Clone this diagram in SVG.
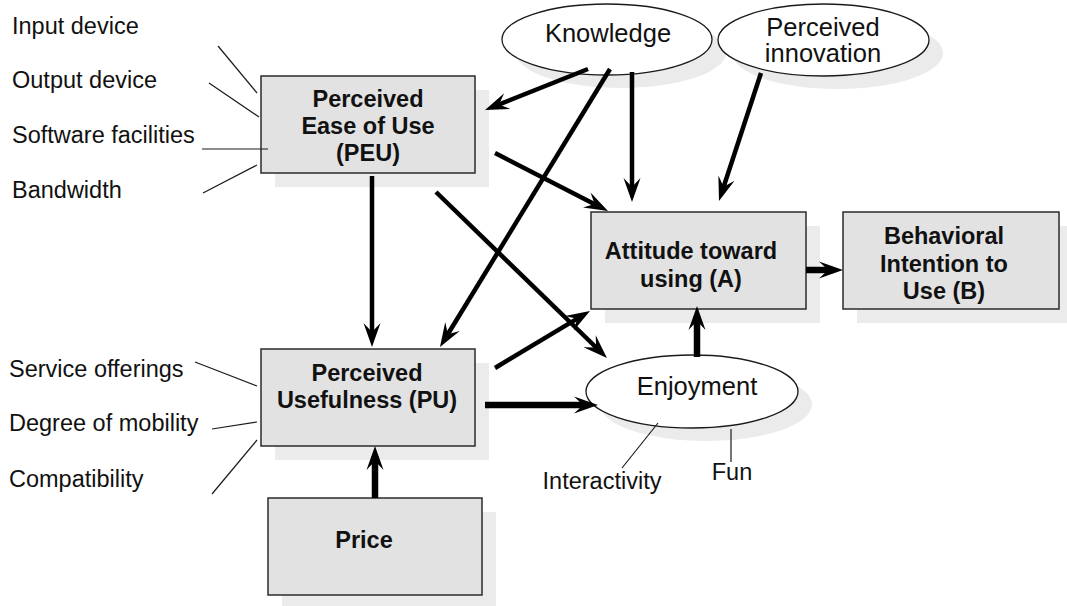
<svg xmlns="http://www.w3.org/2000/svg" width="1067" height="606" viewBox="0 0 1067 606">
  <style>
    .box { fill: #e2e2e2; stroke: #2b2b2b; stroke-width: 1.5; }
    .shadow { fill: #ebebeb; stroke: none; }
    .oval { fill: #ffffff; stroke: #1a1a1a; stroke-width: 1.3; }
    .t { font-family: "Liberation Sans", Arial, Helvetica, sans-serif; fill: #111; }
    .lbl { font-size: 23.5px; }
    .bold { font-size: 23.5px; font-weight: bold; text-anchor: middle; }
    .ov { font-size: 25.5px; text-anchor: middle; }
    .mid { text-anchor: middle; }
    .lead { stroke: #1a1a1a; stroke-width: 1.2; fill: none; }
    .arr { stroke: #000; stroke-width: 4.5; fill: none; marker-end: url(#head); }
    .arr.thick { stroke-width: 6.5; }
  </style>
  <defs>
    <marker id="head" markerUnits="userSpaceOnUse" viewBox="0 -9 24 18" markerWidth="24" markerHeight="18" refX="14" refY="0" orient="auto">
      <path d="M0,-8.5 L24,0 L0,8.5 L9,0 Z" fill="#000"/>
    </marker>
  </defs>

  <!-- drop shadows behind boxes and ovals -->
  <g id="shadows">
    <rect class="shadow" x="275" y="90" width="214" height="97"/>
    <rect class="shadow" x="275" y="363" width="214" height="97"/>
    <rect class="shadow" x="282" y="512" width="214" height="97"/>
    <rect class="shadow" x="605" y="226" width="215" height="97"/>
    <rect class="shadow" x="857" y="226" width="216" height="97"/>
    <ellipse class="shadow" cx="621" cy="52.5" rx="105" ry="35.5"/>
    <ellipse class="shadow" cx="837.5" cy="53" rx="105.5" ry="36"/>
    <ellipse class="shadow" cx="706" cy="404.5" rx="106" ry="36.5"/>
  </g>

  <!-- nodes -->
  <g id="peu">
    <rect class="box" x="261" y="76" width="214" height="97"/>
    <text class="t bold" x="368" y="107">Perceived</text>
    <text class="t bold" x="368" y="134">Ease of Use</text>
    <text class="t bold" x="368" y="161">(PEU)</text>
  </g>
  <g id="pu">
    <rect class="box" x="261" y="349" width="214" height="97"/>
    <text class="t bold" x="367" y="381">Perceived</text>
    <text class="t bold" x="367" y="408">Usefulness (PU)</text>
  </g>
  <g id="price">
    <rect class="box" x="268" y="498" width="214" height="97"/>
    <text class="t bold" x="364" y="548">Price</text>
  </g>
  <g id="attitude">
    <rect class="box" x="591" y="212" width="215" height="97"/>
    <text class="t bold" x="691" y="259">Attitude toward</text>
    <text class="t bold" x="691" y="287">using (A)</text>
  </g>
  <g id="intention">
    <rect class="box" x="843" y="212" width="216" height="97"/>
    <text class="t bold" x="944" y="244">Behavioral</text>
    <text class="t bold" x="944" y="272">Intention to</text>
    <text class="t bold" x="944" y="299">Use (B)</text>
  </g>
  <g id="knowledge">
    <ellipse class="oval" cx="607" cy="39.5" rx="105" ry="35.5"/>
    <text class="t ov" x="608" y="42">Knowledge</text>
  </g>
  <g id="innovation">
    <ellipse class="oval" cx="823.5" cy="40" rx="105.5" ry="36"/>
    <text class="t ov" x="823" y="36">Perceived</text>
    <text class="t ov" x="823" y="62">innovation</text>
  </g>
  <g id="enjoyment">
    <ellipse class="oval" cx="692" cy="391.5" rx="106" ry="36.5"/>
    <text class="t ov" x="697" y="395">Enjoyment</text>
  </g>

  <!-- factor labels with leader lines -->
  <g id="peu-factors">
    <text class="t lbl" x="12" y="34">Input device</text>
    <text class="t lbl" x="12" y="88">Output device</text>
    <text class="t lbl" x="12" y="143">Software facilities</text>
    <text class="t lbl" x="12" y="198">Bandwidth</text>
    <line class="lead" x1="218" y1="46" x2="257" y2="93"/>
    <line class="lead" x1="209" y1="83" x2="259" y2="117"/>
    <line class="lead" x1="202" y1="149" x2="268" y2="149"/>
    <line class="lead" x1="203" y1="193" x2="257" y2="165"/>
  </g>
  <g id="pu-factors">
    <text class="t lbl" x="9" y="377">Service offerings</text>
    <text class="t lbl" x="9" y="431">Degree of mobility</text>
    <text class="t lbl" x="9" y="487">Compatibility</text>
    <line class="lead" x1="195" y1="362" x2="257" y2="386"/>
    <line class="lead" x1="212" y1="429" x2="257" y2="422"/>
    <line class="lead" x1="212" y1="494" x2="257" y2="440"/>
  </g>
  <g id="enjoyment-factors">
    <line class="lead" x1="658" y1="423" x2="622" y2="468"/>
    <line class="lead" x1="731" y1="429" x2="731" y2="462"/>
    <text class="t lbl mid" x="602" y="489">Interactivity</text>
    <text class="t lbl mid" x="732" y="480">Fun</text>
  </g>

  <!-- connectors -->
  <g id="connectors">
    <line class="arr" x1="588" y1="69" x2="494.3" y2="106.3"/>
    <line class="arr" x1="610" y1="69" x2="445.2" y2="338.5"/>
    <line class="arr" x1="632" y1="72" x2="632" y2="192"/>
    <line class="arr" x1="761" y1="73" x2="722.1" y2="191.5"/>
    <line class="arr" x1="495" y1="153" x2="599.1" y2="206.4"/>
    <line class="arr" x1="372" y1="176" x2="372" y2="337"/>
    <line class="arr" x1="436" y1="192" x2="599.8" y2="351"/>
    <line class="arr" x1="495" y1="368" x2="581.4" y2="316.1"/>
    <line class="arr thick" x1="485" y1="405" x2="588" y2="405"/>
    <line class="arr thick" x1="697" y1="357" x2="697" y2="316"/>
    <line class="arr thick" x1="806" y1="270" x2="833" y2="270"/>
    <line class="arr thick" x1="375" y1="498" x2="375" y2="456"/>
  </g>
</svg>
